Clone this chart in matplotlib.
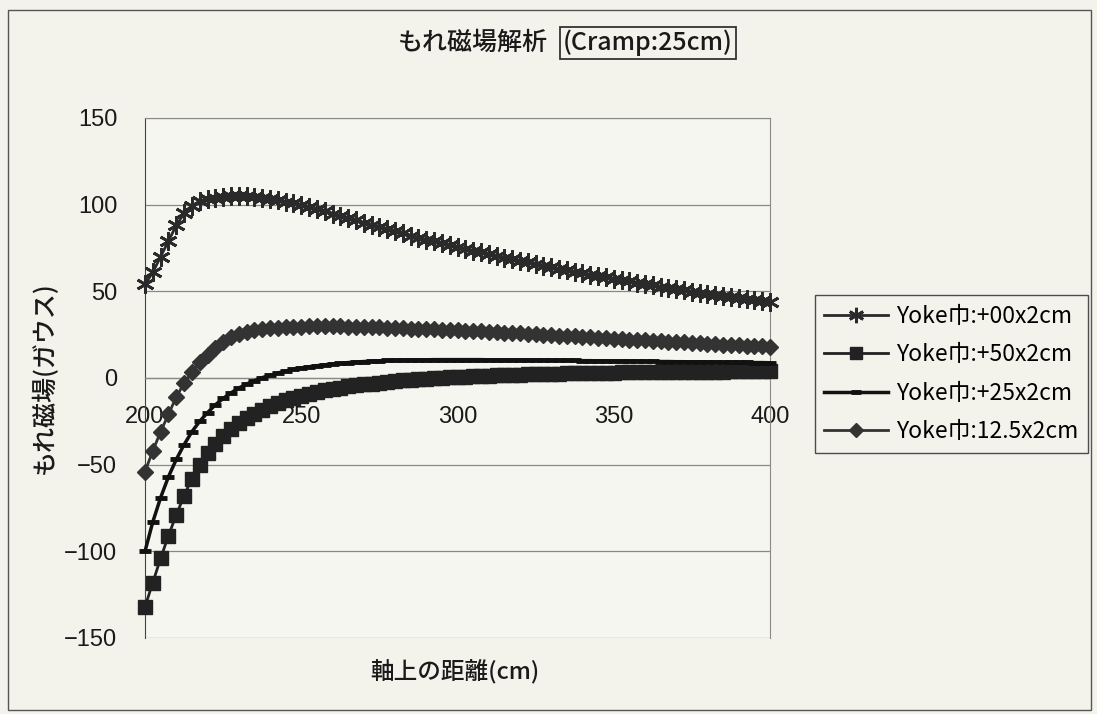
import numpy as np
import matplotlib
matplotlib.use("Agg")
import matplotlib.pyplot as plt
from matplotlib.patches import Rectangle

plt.rcParams['font.family'] = ['Noto Sans CJK JP', 'DejaVu Sans']

# distance along axis (cm)
dist = [200, 202.5, 205, 207.5, 210, 212.5, 215, 217.5, 220, 222.5,
        225, 227.5, 230, 232.5, 235, 237.5, 240, 242.5, 245, 247.5,
        250, 252.5, 255, 257.5, 260, 262.5, 265, 267.5, 270, 272.5,
        275, 277.5, 280, 282.5, 285, 287.5, 290, 292.5, 295, 297.5,
        300, 302.5, 305, 307.5, 310, 312.5, 315, 317.5, 320, 322.5,
        325, 327.5, 330, 332.5, 335, 337.5, 340, 342.5, 345, 347.5,
        350, 352.5, 355, 357.5, 360, 362.5, 365, 367.5, 370, 372.5,
        375, 377.5, 380, 382.5, 385, 387.5, 390, 392.5, 395, 397.5, 400]

# Yoke巾:+00x2cm
yoke_00 = [54, 61, 70, 79, 88, 95, 99.5, 102, 103.3, 104.1,
           104.6, 104.9, 105, 104.9, 104.6, 104.1, 103.4, 102.6, 101.7, 100.7,
           99.6, 98.5, 97.3, 96.1, 94.8, 93.5, 92.2, 90.9, 89.6, 88.3,
           87.1, 85.9, 84.6, 83.4, 82.2, 81, 79.9, 78.8, 77.7, 76.6,
           75.5, 74.5, 73.5, 72.5, 71.5, 70.5, 69.5, 68.6, 67.6, 66.7,
           65.8, 64.9, 64, 63.1, 62.2, 61.4, 60.5, 59.7, 58.9, 58.1,
           57.3, 56.5, 55.7, 55, 54.2, 53.5, 52.7, 52, 51.3, 50.6,
           49.9, 49.2, 48.6, 47.9, 47.3, 46.6, 46, 45.4, 44.8, 44.2, 43.6]

# Yoke巾:+50x2cm
yoke_50 = [-132, -118, -104, -91, -79, -68, -58, -50, -43.5, -38,
           -33.5, -29.5, -26, -23, -20.5, -18.3, -16.3, -14.5, -12.9, -11.5,
           -10.2, -9.1, -8.1, -7.2, -6.4, -5.6, -4.9, -4.3, -3.7, -3.2,
           -2.7, -2.2, -1.8, -1.4, -1.0, -0.7, -0.4, -0.1, 0.2, 0.4,
           0.6, 0.8, 1.0, 1.2, 1.4, 1.5, 1.7, 1.8, 2.0, 2.1,
           2.2, 2.3, 2.4, 2.5, 2.6, 2.7, 2.8, 2.9, 3.0, 3.0,
           3.1, 3.2, 3.2, 3.3, 3.3, 3.4, 3.4, 3.5, 3.5, 3.6,
           3.6, 3.6, 3.7, 3.7, 3.7, 3.8, 3.8, 3.8, 3.8, 3.9, 3.9]

# Yoke巾:+25x2cm
yoke_25 = [-100, -83, -69, -57, -47, -38.5, -31, -25, -20, -15.5,
           -11.8, -8.6, -5.8, -3.5, -1.5, 0.2, 1.6, 2.9, 4, 5,
           5.8, 6.5, 7.1, 7.6, 8.1, 8.5, 8.9, 9.2, 9.5, 9.7,
           9.9, 10.1, 10.2, 10.3, 10.4, 10.5, 10.5, 10.6, 10.6, 10.6,
           10.6, 10.6, 10.6, 10.6, 10.5, 10.5, 10.5, 10.4, 10.4, 10.4,
           10.3, 10.3, 10.2, 10.2, 10.1, 10.1, 10.0, 10.0, 9.9, 9.9,
           9.8, 9.8, 9.7, 9.7, 9.6, 9.6, 9.5, 9.5, 9.4, 9.4,
           9.3, 9.3, 9.2, 9.2, 9.1, 9.1, 9.0, 9.0, 8.9, 8.9, 8.8]

# Yoke巾:12.5x2cm
yoke_125 = [-54, -42, -31, -21, -11, -3, 3.5, 9, 13.5, 17.5,
            21, 23.5, 25.3, 26.6, 27.5, 28.2, 28.7, 29.1, 29.4, 29.6,
            29.7, 29.8, 29.9, 29.9, 29.9, 29.8, 29.7, 29.6, 29.5, 29.3,
            29.2, 29, 28.8, 28.6, 28.5, 28.3, 28.2, 28, 27.8, 27.7,
            27.5, 27.3, 27.1, 26.9, 26.7, 26.4, 26.2, 26, 25.7, 25.5,
            25.2, 25, 24.7, 24.5, 24.2, 24, 23.7, 23.5, 23.2, 23,
            22.7, 22.5, 22.2, 22, 21.7, 21.5, 21.2, 21, 20.7, 20.5,
            20.3, 20, 19.8, 19.6, 19.3, 19.1, 18.9, 18.7, 18.4, 18.2, 18]

labels = ["Yoke巾:+00x2cm", "Yoke巾:+50x2cm", "Yoke巾:+25x2cm", "Yoke巾:12.5x2cm"]
x_ticks = [200, 250, 300, 350, 400]
y_ticks = [-150, -100, -50, 0, 50, 100, 150]

bg = '#f3f2eb'
ink = '#1a1a1a'
fig = plt.figure(figsize=(10.97, 7.14), dpi=100, facecolor=bg)
ax = fig.add_axes([145 / 1097, 1 - 638 / 714, 625 / 1097, 520 / 714])
ax.set_facecolor('#f6f6f1')

ax.plot(dist, yoke_00, color='#2a2a2a', lw=2, marker=(6, 2, 0), ms=13, mew=2,
        clip_on=False, zorder=4, label=labels[0])
ax.plot(dist, yoke_50, color='#222222', lw=2, marker='s', ms=9.5,
        clip_on=False, zorder=4, label=labels[1])
ax.plot(dist, yoke_25, color='#111111', lw=2.5, marker='_', ms=8, mew=3.5,
        clip_on=False, zorder=4, label=labels[2])
ax.plot(dist, yoke_125, color='#333333', lw=2, marker='D', ms=8.5,
        clip_on=False, zorder=4, label=labels[3])

ax.set_xlim(200, 400)
ax.set_ylim(-150, 150)
ax.set_xticks(x_ticks)
ax.set_yticks(y_ticks)
ax.grid(axis='y', color='#8a8a85', lw=0.9)
ax.spines['bottom'].set_position(('data', 0))
ax.spines['bottom'].set_color('#8a8a85')
ax.spines['bottom'].set_linewidth(0.9)
ax.spines['left'].set_color('#444444')
ax.spines['right'].set_color('#8a8a85')
ax.spines['top'].set_color('#8a8a85')
ax.tick_params(axis='x', length=0, pad=20, labelsize=17, colors=ink)
ax.tick_params(axis='y', length=0, pad=20, labelsize=17, colors=ink)
for lab in ax.get_xticklabels() + ax.get_yticklabels():
    lab.set_family(['Liberation Sans', 'DejaVu Sans'])

fig.text(548 / 1097, 1 - 43 / 714, 'もれ磁場解析', ha='right', va='center',
         fontsize=18, color=ink, fontweight='medium')
fig.text(563 / 1097, 1 - 43 / 714, '(Cramp:25cm)', ha='left', va='center',
         fontsize=18, color=ink, fontweight='medium',
         bbox=dict(boxstyle='square,pad=0.12', fc='none', ec='#333333', lw=1.3))
fig.text(45 / 1097, 1 - 378 / 714, 'もれ磁場(ガウス)', rotation=90, ha='center',
         va='center', fontsize=18, color=ink, fontweight='medium')
fig.text(455 / 1097, 1 - 672 / 714, '軸上の距離(cm)', ha='center', va='center',
         fontsize=17, color=ink, fontweight='medium')

leg = ax.legend(loc='center left', bbox_to_anchor=(815 / 1097, 1 - 374 / 714),
                bbox_transform=fig.transFigure, fontsize=16.5, frameon=True,
                fancybox=False, edgecolor='#222222', facecolor=bg,
                handlelength=2.8, labelspacing=0.68, borderpad=0.4,
                handletextpad=0.35, borderaxespad=0, markerscale=0.85)
leg.get_frame().set_linewidth(1.0)

fig.patches.append(Rectangle((8 / 1097, 4 / 714), 1083 / 1097, 700 / 714,
                             transform=fig.transFigure, fill=False,
                             ec='#555555', lw=1.0))

fig.savefig('out.png', dpi=100, facecolor=bg)
